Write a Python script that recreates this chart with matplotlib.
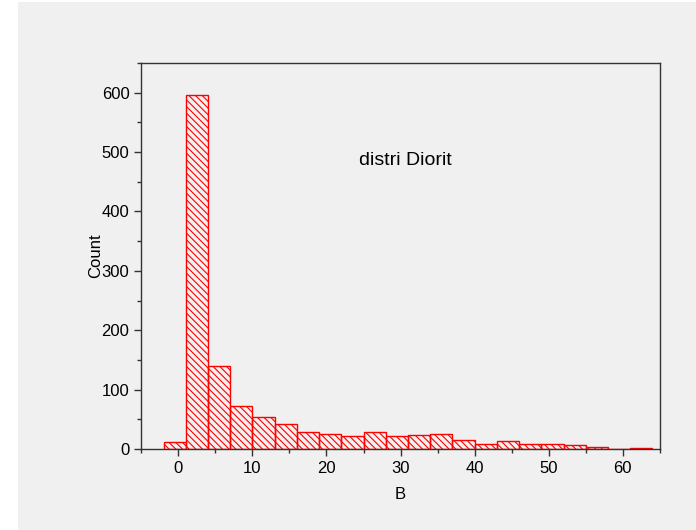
import numpy as np
import matplotlib
matplotlib.use('Agg')
import matplotlib.pyplot as plt
from matplotlib.patches import Rectangle
from matplotlib.ticker import MultipleLocator

plt.rcParams['font.family'] = ['Liberation Sans', 'DejaVu Sans']
plt.rcParams['hatch.color'] = 'red'
plt.rcParams['hatch.linewidth'] = 0.8

# histogram of B, bins of width 3 starting at -2
bin_edges = [-2, 1, 4, 7, 10, 13, 16, 19, 22, 25, 28, 31, 34, 37, 40,
             43, 46, 49, 52, 55, 58, 61, 64]
counts = [12, 597, 140, 72, 53, 42, 29, 25, 22, 29, 22, 24, 25, 15,
          9, 13, 8, 8, 6, 3, 0, 1]

fig = plt.figure(figsize=(6.96, 5.30), dpi=100, facecolor='white')
# light grey page behind the plot
fig.patches.append(Rectangle((18 / 696, 0), 1, 528 / 530,
                             transform=fig.transFigure, facecolor='#f0f0f0',
                             edgecolor='none', zorder=-1))

ax = fig.add_axes([0.203, 0.153, 0.745, 0.728])
ax.set_facecolor('none')

left = np.array(bin_edges[:-1])
widths = np.diff(bin_edges)
ax.bar(left, counts, width=widths, align='edge', facecolor='none',
       edgecolor='red', linewidth=1.0, hatch='\\\\\\\\\\')

ax.set_xlim(-5, 65)
ax.set_ylim(0, 650)
ax.xaxis.set_major_locator(MultipleLocator(10))
ax.xaxis.set_minor_locator(MultipleLocator(5))
ax.yaxis.set_major_locator(MultipleLocator(100))
ax.yaxis.set_minor_locator(MultipleLocator(50))

for s in ax.spines.values():
    s.set_color('#333333')
    s.set_linewidth(1.0)
ax.tick_params(which='major', direction='out', length=5, width=1,
               color='#333333', labelsize=12)
ax.tick_params(which='minor', direction='out', length=3, width=1,
               color='#333333')

ax.set_xlabel('B', fontsize=12, labelpad=8)
ax.set_ylabel('Count', fontsize=12, labelpad=-1)

ax.text(30.6, 486, 'distri Diorit', fontsize=14, ha='center', va='center')

fig.savefig('out.png', dpi=100)
